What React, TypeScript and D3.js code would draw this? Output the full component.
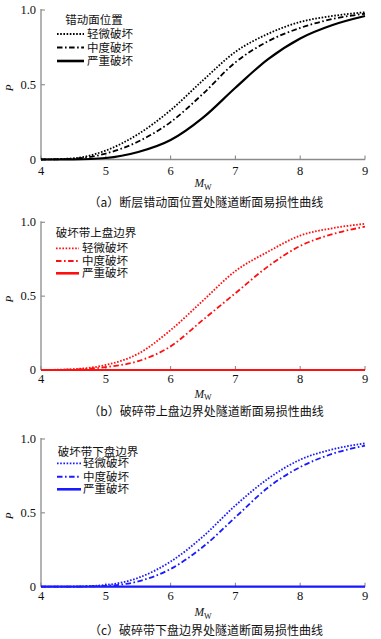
import React from "react";
import * as d3 from "d3";

const MW = [4, 4.5, 5, 5.5, 6, 6.5, 7, 7.5, 8, 8.5, 9];
const X_TICKS = [4, 5, 6, 7, 8, 9];
const Y_TICKS = [0, 0.5, 1.0];
const Y_TICK_LABELS = ["0", "0.5", "1.0"];
const SERIES_NAMES = ["轻微破坏", "中度破坏", "严重破坏"];

const A_SLIGHT = [0, 0.008, 0.06, 0.17, 0.33, 0.53, 0.72, 0.84, 0.92, 0.96, 0.985];
const A_MODERATE = [0, 0.005, 0.04, 0.12, 0.25, 0.44, 0.65, 0.79, 0.88, 0.94, 0.975];
const A_SEVERE = [0, 0.001, 0.01, 0.05, 0.13, 0.28, 0.48, 0.67, 0.81, 0.9, 0.96];

const B_SLIGHT = [0, 0.006, 0.034, 0.11, 0.27, 0.47, 0.67, 0.8, 0.91, 0.96, 0.99];
const B_MODERATE = [0, 0.003, 0.02, 0.06, 0.16, 0.34, 0.52, 0.7, 0.84, 0.92, 0.97];
const B_SEVERE = [0, 0, 0, 0, 0, 0, 0, 0, 0, 0, 0];

const C_SLIGHT = [0, 0.001, 0.012, 0.06, 0.17, 0.34, 0.55, 0.73, 0.86, 0.93, 0.97];
const C_MODERATE = [0, 0.0005, 0.006, 0.036, 0.12, 0.27, 0.47, 0.67, 0.81, 0.9, 0.955];
const C_SEVERE = [0, 0, 0, 0, 0, 0, 0, 0, 0, 0, 0];

const PANELS = [
  {
    title: "错动面位置",
    caption: "（a）断层错动面位置处隧道断面易损性曲线",
    color: "#000000",
    series: [A_SLIGHT, A_MODERATE, A_SEVERE],
  },
  {
    title: "破坏带上盘边界",
    caption: "（b）破碎带上盘边界处隧道断面易损性曲线",
    color: "#ff1010",
    series: [B_SLIGHT, B_MODERATE, B_SEVERE],
  },
  {
    title: "破坏带下盘边界",
    caption: "（c）破碎带下盘边界处隧道断面易损性曲线",
    color: "#1a1aff",
    series: [C_SLIGHT, C_MODERATE, C_SEVERE],
  },
];

// layout
const LAYOUT = [
  { y0: 159.5, y1: 10, tickY: 175, mwY: 187, capY: 207, legTitle: [94, 24], legX: [57, 84, 87], legY: [34, 47.5, 61] },
  { y0: 370, y1: 222.3, tickY: 383, mwY: 397.5, capY: 416, legTitle: [96, 237], legX: [56, 79, 82], legY: [248.3, 261, 273.3] },
  { y0: 586.7, y1: 439, tickY: 600, mwY: 616, capY: 634.5, legTitle: [98, 455.5], legX: [57, 81, 83], legY: [463.3, 476.7, 489.3] },
];

const DASHES = ["1.6,1.6", "5.5,2.5,1.6,2.5", "none"];
const WIDTHS = [1.8, 1.8, 2.2];
const LEG_WIDTHS = [1.8, 2, 2.6];

const SERIF = "'Liberation Serif', 'Times New Roman', serif";
const CJK = "'Noto Sans CJK SC', 'Liberation Serif', serif";
const AXIS = "#8a8a8a";

function Panel({ p, l }: { p: any; l: any }) {
  const x = d3.scaleLinear().domain([4, 9]).range([41, 365]);
  const y = d3.scaleLinear().domain([0, 1]).range([l.y0, l.y1]);
  const line = d3
    .line<number>()
    .x((_, i) => x(MW[i]))
    .y((v) => y(v))
    .curve(d3.curveMonotoneX);
  return (
    <g>
      {/* axes */}
      <line x1={x(4)} x2={x(4)} y1={y(1) - 1} y2={y(0)} stroke={AXIS} strokeWidth={1.3} />
      <line x1={x(4)} x2={x(9)} y1={y(0)} y2={y(0)} stroke={AXIS} strokeWidth={1.3} />
      {X_TICKS.map((t) => (
        <g key={"xt" + t}>
          <line x1={x(t)} x2={x(t)} y1={y(0)} y2={y(0) - 4} stroke={AXIS} strokeWidth={1.1} />
          <text x={x(t)} y={l.tickY} textAnchor="middle" fontFamily={SERIF} fontSize={12.5} fill="#111">
            {t}
          </text>
        </g>
      ))}
      {Y_TICKS.map((t, i) => (
        <g key={"yt" + t}>
          <line x1={x(4)} x2={x(4) + 4} y1={y(t)} y2={y(t)} stroke={AXIS} strokeWidth={1.1} />
          <text x={36} y={y(t) + 4} textAnchor="end" fontFamily={SERIF} fontSize={12.5} fill="#111">
            {Y_TICK_LABELS[i]}
          </text>
        </g>
      ))}
      <text
        transform={`translate(13,${(y(0.5) + 3).toFixed(1)}) rotate(-90)`}
        textAnchor="middle"
        fontFamily={SERIF}
        fontStyle="italic"
        fontSize={11}
        fill="#111"
      >
        P
      </text>
      <text x={203} y={l.mwY} textAnchor="middle" fontFamily={SERIF} fontStyle="italic" fontSize={11.5} fill="#111">
        M
        <tspan fontSize={8} dy={2.5} fontStyle="normal">
          W
        </tspan>
      </text>
      {/* curves */}
      {p.series.map((s: number[], i: number) => (
        <path
          key={"s" + i}
          d={line(s) || ""}
          fill="none"
          stroke={p.color}
          strokeWidth={WIDTHS[i]}
          strokeDasharray={DASHES[i]}
        />
      ))}
      {/* legend */}
      <text x={l.legTitle[0]} y={l.legTitle[1]} textAnchor="middle" fontFamily={CJK} fontSize={11.5} fill="#111">
        {p.title}
      </text>
      {SERIES_NAMES.map((n, i) => (
        <g key={"lg" + i}>
          <line
            x1={l.legX[0]}
            x2={l.legX[1]}
            y1={l.legY[i]}
            y2={l.legY[i]}
            stroke={p.color}
            strokeWidth={LEG_WIDTHS[i]}
            strokeDasharray={DASHES[i]}
          />
          <text x={l.legX[2]} y={l.legY[i] + 4} fontFamily={CJK} fontSize={11.5} fill="#111">
            {n}
          </text>
        </g>
      ))}
      <text x={206} y={l.capY} textAnchor="middle" fontFamily={CJK} fontSize={12} fill="#111">
        {p.caption}
      </text>
    </g>
  );
}

export default function App() {
  return (
    <svg
      width={381}
      height={639}
      viewBox="0 0 381 639"
      style={{ position: "absolute", left: 0, top: 0, background: "#fff" }}
    >
      <rect width={381} height={639} fill="#fff" />
      {PANELS.map((p, i) => (
        <Panel key={i} p={p} l={LAYOUT[i]} />
      ))}
    </svg>
  );
}
